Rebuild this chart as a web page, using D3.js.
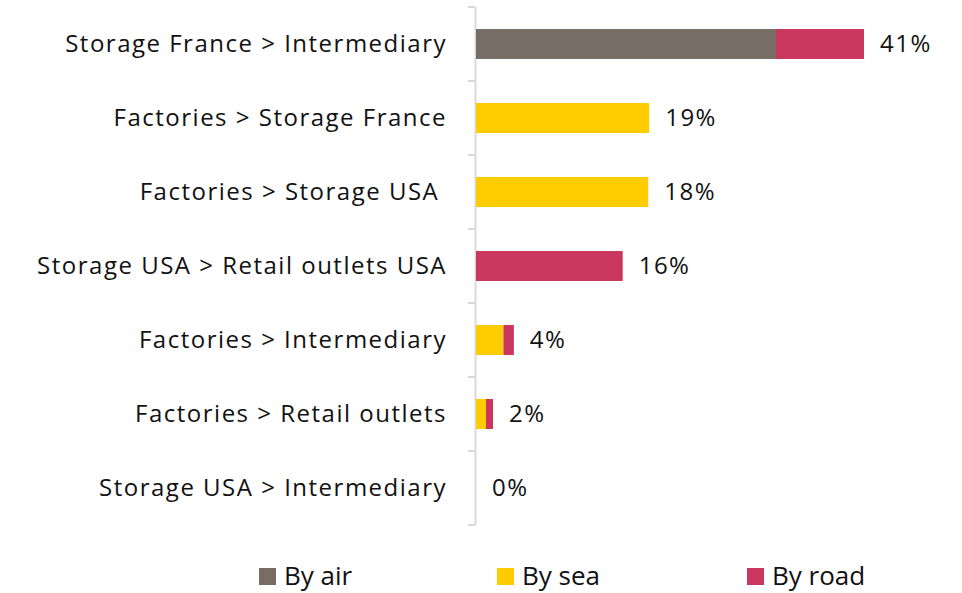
<!DOCTYPE html>
<html>
<head>
<meta charset="utf-8">
<script src="https://cdn.jsdelivr.net/npm/d3@7"></script>
<style>
  body { margin: 0; background: #fff; }
  svg { display: block; }
</style>
</head>
<body>
<svg id="chart" width="962" height="593"></svg>
<script>
// categories, top to bottom
var categories = [
    "Storage France > Intermediary",
    "Factories > Storage France",
    "Factories > Storage USA ",
    "Storage USA > Retail outlets USA",
    "Factories > Intermediary",
    "Factories > Retail outlets",
    "Storage USA > Intermediary"
];
// share in % by transport mode
var byAir  = [31.7, 0,    0,    0,    0,   0,    0];
var bySea  = [0,    18.3, 18.2, 0,    2.9, 1.05, 0];
var byRoad = [9.3,  0,    0,    15.5, 1.1, 0.75, 0];
var totalLabels = ["41%", "19%", "18%", "16%", "4%", "2%", "0%"];

var seriesNames = ["By air", "By sea", "By road"];
var seriesColors = ["#786d64", "#ffcc00", "#c9375f"];

var svg = d3.select("#chart");

var x = d3.scaleLinear()
    .domain([0, 41])
    .range([476, 864]);

var y = d3.scaleBand()
    .domain(categories)
    .range([7, 525])
    .paddingInner(0.595)
    .paddingOuter(0.2975);

// axis line + ticks between categories (excel style)
var axisColor = "#d9d9d9";
svg.append("line")
    .attr("x1", 475.5).attr("x2", 475.5)
    .attr("y1", y.range()[0]).attr("y2", y.range()[1])
    .attr("stroke", axisColor).attr("stroke-width", 2);
for (let i = 0; i <= categories.length; i++) {
    let ty = y.range()[0] + i * y.step();
    svg.append("line")
        .attr("x1", 468).attr("x2", 475)
        .attr("y1", ty).attr("y2", ty)
        .attr("stroke", axisColor).attr("stroke-width", 2);
}

// stacked bars
var series = [byAir, bySea, byRoad];
categories.forEach(function (cat, i) {
    let start = 0;
    series.forEach(function (s, k) {
        let v = s[i];
        if (v > 0) {
            svg.append("rect")
                .attr("x", x(start))
                .attr("y", y(cat))
                .attr("width", x(start + v) - x(start))
                .attr("height", y.bandwidth())
                .attr("fill", seriesColors[k]);
        }
        start += v;
    });
    // total label
    svg.append("text")
        .attr("x", x(start) + 16)
        .attr("y", y(cat) + y.bandwidth() / 2)
        .attr("dy", "0.35em")
        .attr("font-family", "'Open Sans', sans-serif")
        .attr("font-size", 24)
        .attr("letter-spacing", 1.5)
        .attr("fill", "#111")
        .text(totalLabels[i]);
});

// category labels
svg.selectAll(".cat")
    .data(categories)
    .enter()
    .append("text")
    .attr("class", "cat")
    .attr("x", 447)
    .attr("y", d => y(d) + y.bandwidth() / 2)
    .attr("dy", "0.35em")
    .attr("text-anchor", "end")
    .attr("font-family", "'Open Sans', sans-serif")
    .attr("font-size", 24)
    .attr("letter-spacing", 1.5)
    .attr("fill", "#111")
    .style("white-space", "pre")
    .text(d => d);

// legend
var legendX = [259, 497, 747];
seriesNames.forEach(function (name, k) {
    svg.append("rect")
        .attr("x", legendX[k]).attr("y", 568)
        .attr("width", 17).attr("height", 17)
        .attr("fill", seriesColors[k]);
    svg.append("text")
        .attr("x", legendX[k] + 25).attr("y", 576)
        .attr("dy", "0.35em")
        .attr("font-family", "'Open Sans', sans-serif")
        .attr("font-size", 26)
        .attr("fill", "#111")
        .text(name);
});
</script>
</body>
</html>
